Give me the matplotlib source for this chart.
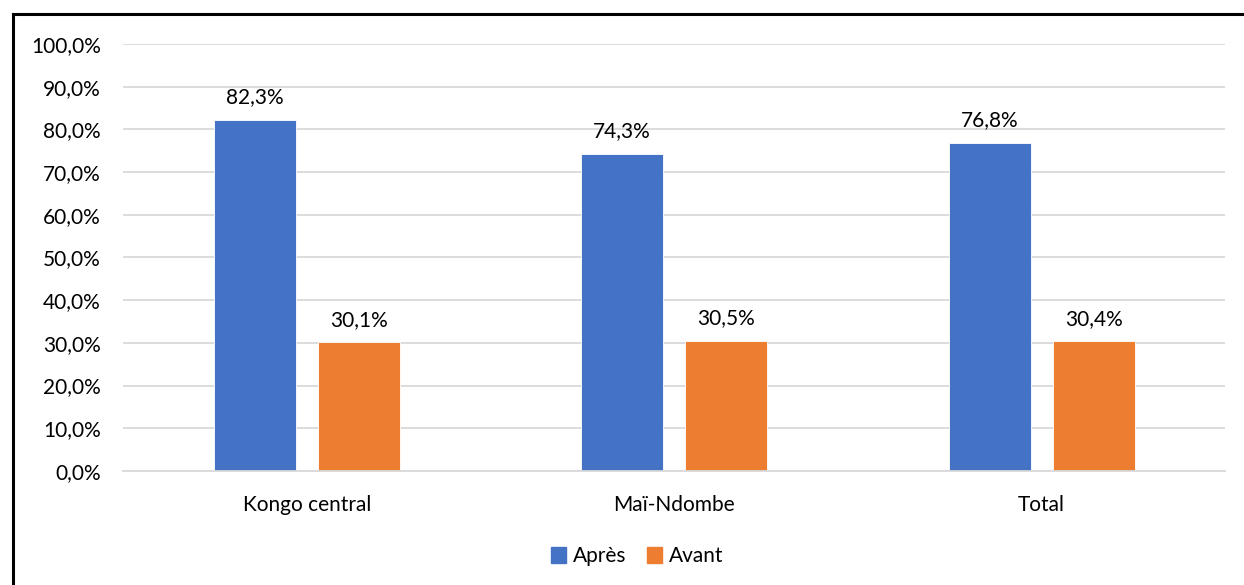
import numpy as np
import matplotlib.pyplot as plt
from matplotlib.patches import Patch
from matplotlib.lines import Line2D

plt.rcParams['font.family'] = ['Lato', 'DejaVu Sans']

categories = ["Kongo central", "Maï-Ndombe", "Total"]
apres = [82.3, 74.3, 76.8]
avant = [30.1, 30.5, 30.4]
labels_apres = ["82,3%", "74,3%", "76,8%"]
labels_avant = ["30,1%", "30,5%", "30,4%"]
yticks = np.arange(0, 101, 10)

blue = "#4472C4"
orange = "#ED7D31"
fs = 15

fig = plt.figure(figsize=(12.44, 5.85), dpi=100)
ax = fig.add_axes([0.0989, 0.1949, 0.8862, 0.7299])

x = np.arange(len(categories))
w = 0.223
off = 0.142
ax.bar(x - off, apres, w, color=blue, edgecolor="white", linewidth=0.6)
ax.bar(x + off, avant, w, color=orange, edgecolor="white", linewidth=0.6)

for i in range(len(categories)):
    ax.annotate(labels_apres[i], (x[i] - off, apres[i]), xytext=(0, 9),
                textcoords="offset points", ha="center", va="bottom", fontsize=fs)
    ax.annotate(labels_avant[i], (x[i] + off, avant[i]), xytext=(0, 9),
                textcoords="offset points", ha="center", va="bottom", fontsize=fs)

ax.set_xlim(-0.5, 2.5)
ax.set_ylim(0, 100)
ax.set_yticks(yticks)
ax.set_yticklabels([f"{v:.1f}%".replace(".", ",") for v in yticks], fontsize=fs)
ax.set_xticks(x)
ax.set_xticklabels(categories, fontsize=fs)
ax.tick_params(axis="both", length=0)
ax.tick_params(axis="y", pad=16)
ax.tick_params(axis="x", pad=17)
ax.grid(axis="y", color="#D9D9D9", linewidth=1.3)
ax.set_axisbelow(True)
for s in ["top", "right", "left"]:
    ax.spines[s].set_visible(False)
ax.spines["bottom"].set_color("#D9D9D9")
ax.spines["bottom"].set_linewidth(1.3)

handles = [Patch(color=blue, label="Après"), Patch(color=orange, label="Avant")]
fig.legend(handles=handles, loc="center", bbox_to_anchor=(0.512, 0.049), ncol=2,
           frameon=False, fontsize=fs, handlelength=0.75, handleheight=0.75,
           handletextpad=0.3, columnspacing=1.0)

# outer frame (only left and top edges are visible in the crop)
fig.add_artist(Line2D([0.0105, 0.0105], [0.0, 0.976], color="black", linewidth=2.2,
                      transform=fig.transFigure))
fig.add_artist(Line2D([0.0105, 1.0], [0.976, 0.976], color="black", linewidth=2.2,
                      transform=fig.transFigure))

fig.savefig("out.png", dpi=100)
